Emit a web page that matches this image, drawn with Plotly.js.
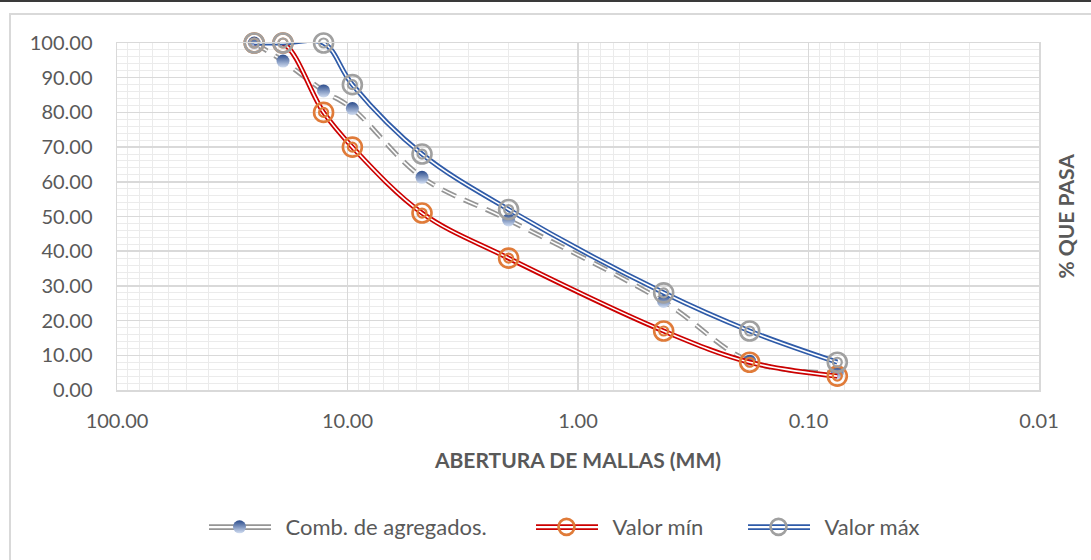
<!DOCTYPE html>
<html>
<head>
<meta charset="utf-8">
<script src="https://cdn.plot.ly/plotly-3.0.1.min.js"></script>
<style>
  html, body { margin: 0; padding: 0; background: #ffffff; overflow: hidden; }
  #topline { position: absolute; left: 0; top: 0; width: 1091px; height: 2px; background: #3a3a3a; }
  #frame { position: absolute; left: 9px; top: 13px; width: 1200px; height: 700px;
           border-left: 2px solid #d9d9d9; border-top: 2px solid #d9d9d9; }
  #chart { position: absolute; left: 0; top: 0; width: 1091px; height: 560px; }
</style>
</head>
<body>
<div id="topline"></div>
<div id="frame"></div>
<div id="chart"></div>
<script>
// Sieve openings (mm)
const sizes = [25.4, 19.05, 12.7, 9.525, 4.75, 2.0, 0.425, 0.18, 0.075];
// % passing for the aggregate blend
const comb = [100, 94.8, 86.2, 81.1, 61.3, 49.0, 25.5, 8.3, 4.9];
// Specification band
const minVals = [100, 100, 80, 70, 51, 38, 17, 8, 4];
const maxVals = [100, 100, 100, 88, 68, 52, 28, 17, 8];

const seriesNames = ['Comb. de agregados.', 'Valor mín', 'Valor máx'];
const xTicks = [100, 10, 1, 0.1, 0.01];

const textColor = '#595959';
const font = 'Lato, Open Sans, sans-serif';

const colors = {
  comb: '#959595', combDot: '#2b4c8c', combDotLight: '#d2def2',
  minLine: '#cc0000', minRing: '#e07b39',
  maxLine: '#2f5ba8', maxRing: '#a0a0a0'
};

// plot-area geometry in pixels (used to place the legend)
const M = { l: 117, r: 52, t: 43, b: 168 };
const W = 1091, H = 560;
const plotW = W - M.l - M.r;
const legendY = -0.395;
const legendCenters = [240, 567, 779];   // pixel x of each legend symbol centre
const legendItemWidth = 82;
const legendMarkerOffset = 5.5 + legendItemWidth / 2;
const toPaperX = px => (px - M.l) / plotW;

// A "double" stroke: a wide coloured line with a thin white core
function doubleLine(y, color, dash) {
  const common = { x: sizes, y: y, mode: 'lines', showlegend: false, hoverinfo: 'skip', cliponaxis: false };
  return [
    Object.assign({}, common, { line: { color: color, width: 5, shape: 'spline', smoothing: 1, dash: dash } }),
    Object.assign({}, common, { line: { color: '#ffffff', width: 1.6, shape: 'spline', smoothing: 1, dash: dash } })
  ];
}

function ringSeries(y, lineColor, ringColor, name, legendId) {
  return [
    ...doubleLine(y, lineColor, 'solid'),
    {
      x: sizes, y: y, name: name, legend: legendId,
      mode: 'markers', cliponaxis: false,
      marker: { symbol: 'circle-open', size: 19, color: ringColor, line: { width: 2.6, color: ringColor } }
    },
    {
      x: sizes, y: y, mode: 'markers', showlegend: false, hoverinfo: 'skip', cliponaxis: false,
      marker: { symbol: 'circle-open', size: 9, color: ringColor, line: { width: 2.2, color: ringColor } }
    }
  ];
}

const combDash = '15px,9px';
const traces = [
  ...doubleLine(comb, colors.comb, combDash),
  {
    x: sizes, y: comb, name: seriesNames[0], legend: 'legend',
    mode: 'markers', cliponaxis: false,
    marker: { symbol: 'circle', size: 13, color: colors.combDot,
              gradient: { type: 'vertical', color: colors.combDotLight }, line: { width: 0 } }
  },
  ...ringSeries(minVals, colors.minLine, colors.minRing, seriesNames[1], 'legend2'),
  ...ringSeries(maxVals, colors.maxLine, colors.maxRing, seriesNames[2], 'legend3')
];

// double-line legend keys drawn behind the legend markers
const legendLineColors = [colors.comb, colors.minLine, colors.maxLine];
const legendShapes = [];
legendCenters.forEach((cx, i) => {
  [-2, 2].forEach(dy => {
    legendShapes.push({
      type: 'line', xref: 'paper', yref: 'paper',
      xsizemode: 'pixel', ysizemode: 'pixel',
      xanchor: toPaperX(cx), yanchor: legendY,
      x0: -31, x1: 31, y0: dy, y1: dy,
      line: { color: legendLineColors[i], width: 1.7 }
    });
  });
});

const legendBase = {
  orientation: 'h', yanchor: 'middle', y: legendY, xanchor: 'left',
  font: { family: font, size: 22, color: textColor },
  bgcolor: 'rgba(0,0,0,0)', itemwidth: legendItemWidth
};

const layout = {
  width: W, height: H,
  margin: M,
  paper_bgcolor: 'rgba(0,0,0,0)',
  plot_bgcolor: 'rgba(0,0,0,0)',
  font: { family: font, color: textColor },
  xaxis: {
    type: 'log', range: [2, -2],
    tickvals: xTicks, tickformat: '.2f',
    tickfont: { family: font, size: 20, color: textColor },
    ticks: '', ticklabelstandoff: 12,
    showgrid: true, gridcolor: '#d9d9d9', gridwidth: 1.5,
    minor: { dtick: 'D1', showgrid: true, gridcolor: '#ebebeb', gridwidth: 1 },
    showline: true, linecolor: '#d9d9d9', linewidth: 1.5, mirror: true,
    zeroline: false,
    title: { text: '<b>ABERTURA DE MALLAS (MM)</b>', standoff: 23,
             font: { family: font, size: 21, color: textColor } }
  },
  yaxis: {
    range: [0, 100], dtick: 10, tickformat: '.2f',
    tickfont: { family: font, size: 20, color: textColor },
    ticks: '', ticklabelstandoff: 19,
    showgrid: true, gridcolor: '#d9d9d9', gridwidth: 1.5,
    minor: { dtick: 2, showgrid: true, gridcolor: '#ebebeb', gridwidth: 1 },
    showline: true, linecolor: '#d9d9d9', linewidth: 1.5, mirror: true,
    zeroline: false
  },
  legend: Object.assign({}, legendBase, { x: toPaperX(legendCenters[0] - legendMarkerOffset) }),
  legend2: Object.assign({}, legendBase, { x: toPaperX(legendCenters[1] - legendMarkerOffset) }),
  legend3: Object.assign({}, legendBase, { x: toPaperX(legendCenters[2] - legendMarkerOffset) }),
  shapes: legendShapes,
  annotations: [{
    text: '<b>% QUE PASA</b>', xref: 'paper', yref: 'paper',
    x: toPaperX(1065), y: 0.5, xanchor: 'center', yanchor: 'middle',
    textangle: -90, showarrow: false,
    font: { family: font, size: 21, color: textColor }
  }],
  showlegend: true
};

Plotly.newPlot('chart', traces, layout, { displayModeBar: false, staticPlot: true });
</script>
</body>
</html>
